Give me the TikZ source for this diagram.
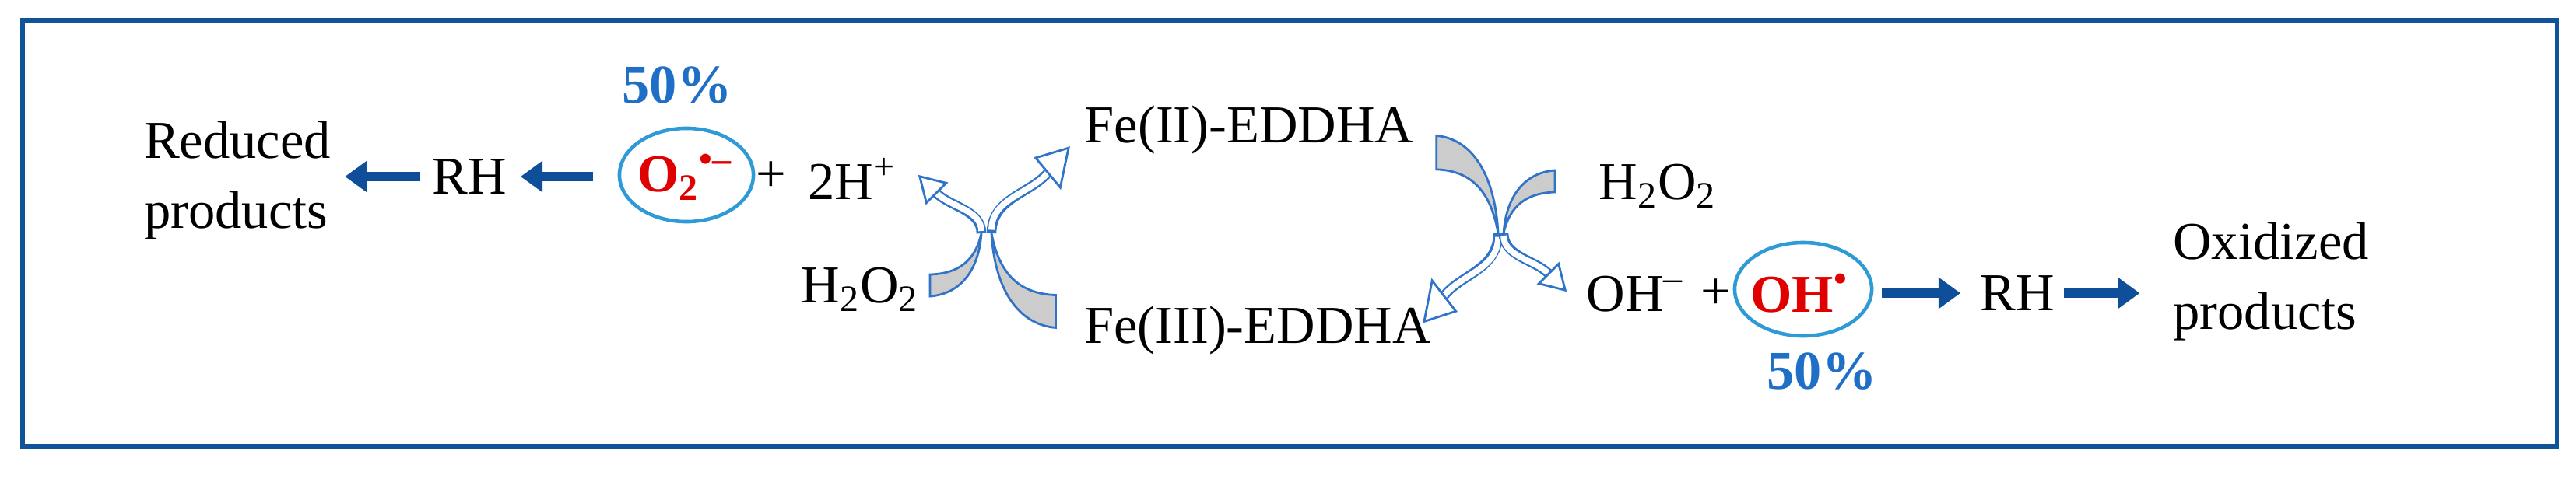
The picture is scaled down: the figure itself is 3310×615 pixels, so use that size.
\documentclass[tikz,border=0pt]{standalone}
\usepackage{fontspec}
\setmainfont{Liberation Serif}
\usetikzlibrary{arrows.meta,shapes.geometric}
\definecolor{frameblue}{HTML}{0F5499}
\definecolor{arrowblue}{HTML}{0F4F9A}
\definecolor{ringblue}{HTML}{2E9AD6}
\definecolor{pctblue}{HTML}{1F6FC6}
\definecolor{cycblue}{HTML}{2F74C8}
\definecolor{radred}{HTML}{E00000}
\newcommand{\cycarrow}[4]{%
  \begin{scope}[shift={(#1,#2)},xscale=#3,yscale=#4]
    \draw[cycblue,line width=0.8pt,fill=gray!40] (-66,53) -- (-66,81) .. controls (-25,78) and (-3,45) .. (0,0) .. controls (-8,36) and (-30,52) .. (-66,53) -- cycle;
    \draw[cycblue,line width=3.6pt] (0,0) .. controls (0,-30) and (-40,-34) .. (-58,-52);
    \draw[white,line width=2.2pt] (0,-3) .. controls (0,-30) and (-40,-34) .. (-58,-52);
    \draw[cycblue,line width=0.8pt,fill=white,line join=miter] (-45.3,-64.7) -- (-79.2,-73.2) -- (-70.7,-39.3) -- cycle;
  \end{scope}}
\begin{document}
\begin{tikzpicture}[x=0.01cm,y=-0.01cm,
  txt/.style={inner sep=0pt,font=\fontsize{19.5}{25.5}\selectfont},
  pct/.style={inner sep=0pt,text=pctblue,font=\fontsize{20}{24}\selectfont\bfseries},
  rad/.style={text=radred,font=\fontsize{19.5}{24}\selectfont\bfseries},
  ring/.style={draw=ringblue,line width=1.3pt,ellipse,minimum height=1.2cm,inner sep=0pt},
  fat/.style={arrowblue,line width=3.6pt,-{Triangle[length=8pt,width=11pt]}}]
\useasboundingbox (0,0) rectangle (3310,615);
\draw[frameblue,line width=1.45pt] (29,26) rectangle (3285,574);
% left chain
\node[txt,align=left] (red) at (305,232) {Reduced\\products};
\node[txt] (rh1) at (603,227) {RH};
\node[ring,minimum width=1.72cm] (o2) at (882,225) {};
\node[rad,inner sep=0pt] (o2t) at (880,228) {O\textsubscript{2}\textsuperscript{•–}};
\node[pct] (p1) at (870,110) {50\%};
\node[txt] (plus1) at (991,227) {+};
\node[txt] (hp) at (1095,230) {2H\textsuperscript{+}};
\node[txt] (hpl) at (1105,372) {H\textsubscript{2}O\textsubscript{2}};
\draw[fat,shorten <=9pt,shorten >=5pt] (o2.west |- rh1) -- (rh1.east);
\draw[fat,shorten <=4.3pt,shorten >=5pt] (rh1.west) -- (red.east |- rh1);
% center
\node[txt] (fe2) at (1605,167) {Fe(II)-EDDHA};
\node[txt] (fe3) at (1616,425) {Fe(III)-EDDHA};
\node[txt] (hpr) at (2130,239) {H\textsubscript{2}O\textsubscript{2}};
\cycarrow{1261}{300}{1}{1}
\cycarrow{1274}{300}{-1.25}{1.5}
\cycarrow{1925}{300}{1.2}{-1.55}
\cycarrow{1932}{300}{-1}{-1}
% right chain
\node[txt] (ohm) at (2101,378) {OH\textsuperscript{–}};
\node[txt] (plus2) at (2205,378) {+};
\node[ring,minimum width=1.76cm] (oh) at (2317,372) {};
\node[rad,inner sep=0pt] (oht) at (2312,377) {OH\textsuperscript{•}};
\node[pct] (p2) at (2341,478) {50\%};
\node[txt] (rh2) at (2592,377) {RH};
\node[txt,align=left] (ox) at (2918,362) {Oxidized\\products};
\draw[fat,shorten <=3pt,shorten >=7pt] (oh.east |- rh2) -- (rh2.west);
\draw[fat,shorten <=3.4pt,shorten >=12pt] (rh2.east) -- (ox.west |- rh2);
\end{tikzpicture}
\end{document}
